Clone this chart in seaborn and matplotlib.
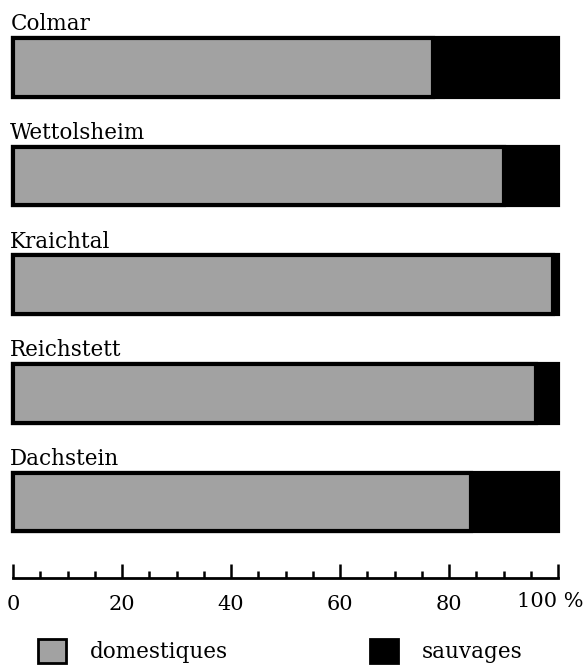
import matplotlib.pyplot as plt
import matplotlib.transforms as mtransforms
from matplotlib.patches import Patch
from matplotlib.ticker import MultipleLocator
import pandas as pd
import seaborn as sns

# data (percent of bones)
sites = ['Colmar', 'Wettolsheim', 'Kraichtal', 'Reichstett', 'Dachstein']
domestiques = [77, 90, 99, 96, 84]
sauvages = [23, 10, 1, 4, 16]
tick_values = [0, 20, 40, 60, 80, 100]
tick_labels = ['0', '20', '40', '60', '80', '100 %']

df = pd.DataFrame({'site': sites, 'domestiques': domestiques, 'sauvages': sauvages})
df['total'] = df['domestiques'] + df['sauvages']

sns.set_style('white')
plt.rcParams['font.family'] = ['DejaVu Serif']
plt.rcParams['text.color'] = 'black'
plt.rcParams['xtick.color'] = 'black'

gray = '#a2a2a2'
fsize = 15.5

fig = plt.figure(figsize=(5.84, 6.65), dpi=100)
ax = fig.add_axes([13 / 584, 87 / 665, 545 / 584, 578 / 665])

# stacked bars: full bar in black, domestic share drawn on top in gray
sns.barplot(data=df, x='total', y='site', orient='h', color='black',
            width=0.54, edgecolor='black', linewidth=3, saturation=1, ax=ax)
sns.barplot(data=df, x='domestiques', y='site', orient='h', color=gray,
            width=0.54, edgecolor='black', linewidth=3, saturation=1, ax=ax)
for p in ax.patches:
    p.set_clip_on(False)

ax.set_xlim(0, 100)
ax.set_ylim(4.70, -0.62)
ax.set_yticks([])
ax.set_xlabel('')
ax.set_ylabel('')

# site names above each bar
for i, s in enumerate(sites):
    ax.text(-0.5, i - 0.34, s, ha='left', va='baseline', fontsize=fsize, color='black')

# ruler-like axis
for side in ['left', 'top', 'right']:
    ax.spines[side].set_visible(False)
ax.spines['bottom'].set_linewidth(2)
ax.spines['bottom'].set_color('black')
ax.set_xticks(tick_values)
ax.set_xticklabels(tick_labels)
ax.xaxis.set_minor_locator(MultipleLocator(5))
ax.tick_params(axis='x', which='both', bottom=True, direction='in', width=1.8,
               color='black', labelcolor='black')
ax.tick_params(axis='x', which='major', length=10, pad=12, labelsize=15)
ax.tick_params(axis='x', which='minor', length=5)

last = ax.get_xticklabels()[-1]
last.set_transform(last.get_transform() +
                   mtransforms.ScaledTranslation(-0.08, 0.03, fig.dpi_scale_trans))

handles = [Patch(facecolor=gray, edgecolor='black', linewidth=2, label='domestiques'),
           Patch(facecolor='black', edgecolor='black', linewidth=2, label='sauvages')]
fig.legend(handles=handles, loc='lower left', bbox_to_anchor=(38 / 584, 2 / 665),
           ncol=2, frameon=False, fontsize=fsize, handlelength=1.3, handleheight=1.3,
           handletextpad=1.1, columnspacing=6.6, borderpad=0, borderaxespad=0)

fig.savefig('out.png', dpi=100)
